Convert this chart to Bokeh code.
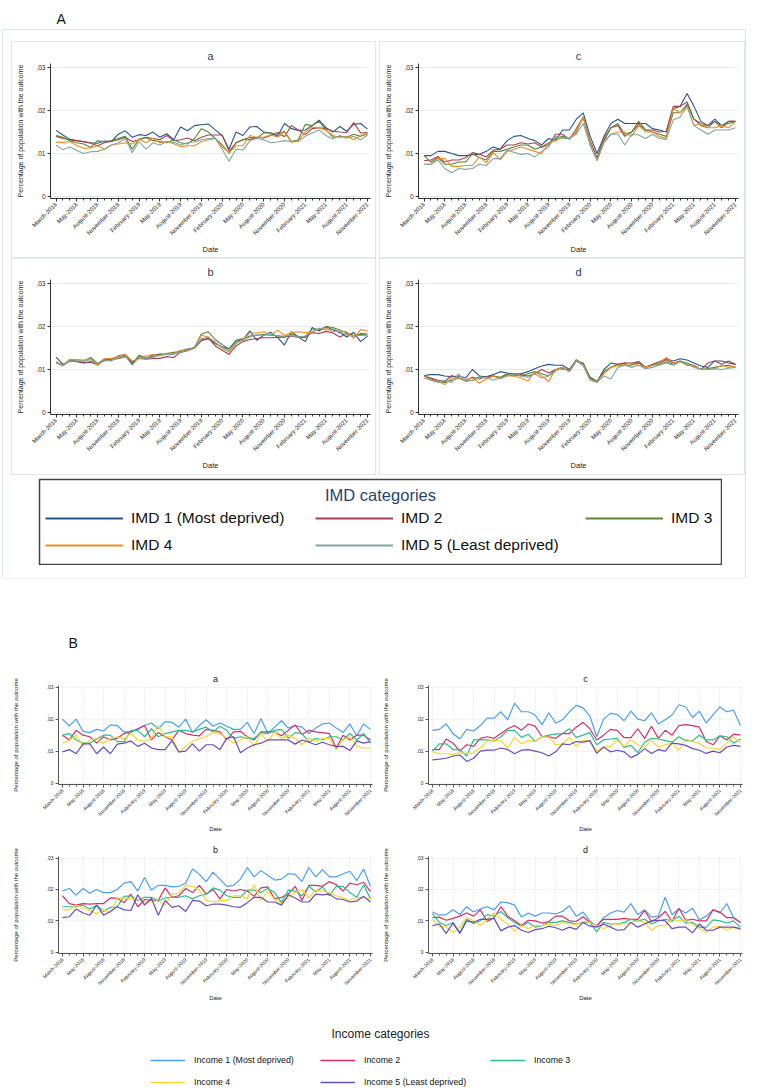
import math
from bokeh.plotting import figure
from bokeh.models import Range1d, FixedTicker, Legend, LegendItem, Label, Spacer, ColumnDataSource
from bokeh.layouts import column, row
from bokeh.embed import file_html
from bokeh.resources import INLINE

FONT = "Liberation Sans"

# ---------------- axis labels ----------------
TICK_POS = [0, 3, 6, 9, 12, 15, 18, 21, 24, 27, 30, 33, 36, 39, 42, 45]
TICK_LABELS = ["March-2018", "May-2018", "August-2018", "November-2018",
               "February-2019", "May-2019", "August-2019", "November-2019",
               "February-2020", "May-2020", "August-2020", "November-2020",
               "February-2021", "May-2021", "August-2021", "November-2021"]
Y_TICKS = [0, 0.01, 0.02, 0.03]
Y_TICK_LABELS = ["0", ".01", ".02", ".03"]

IMD_LABELS = ["IMD 1 (Most deprived)", "IMD 2", "IMD 3", "IMD 4", "IMD 5 (Least deprived)"]
IMD_COLORS = ["#26558a", "#a8404e", "#5a8636", "#ef8d24", "#80a79c"]
INC_LABELS = ["Income 1 (Most deprived)", "Income 2", "Income 3", "Income 4", "Income 5 (Least deprived)"]
INC_COLORS = ["#4a9ff0", "#d6306a", "#2dbd8b", "#f8d531", "#6a4cc0"]

# ---------------- data (values x 1/1000) ----------------
# Panel A-a
imd_a_1 = [15.4,14.3,13.3,13.0,12.8,12.5,12.4,12.9,12.8,14.5, 15.3,13.8,14.4,14.2,15.0,13.8,14.6,13.2,16.2,15.3, 16.5,16.7,16.9,15.5,14.2,11.0,15.0,14.2,16.2,16.3, 15.0,14.8,14.0,17.0,15.8,15.4,15.5,16.5,17.8,16.0, 15.0,16.3,15.2,16.8,17.0,15.7]
imd_a_2 = [14.0,13.5,13.2,13.0,12.7,12.4,11.8,12.5,12.8,13.2, 13.8,12.8,13.2,13.8,13.5,13.2,14.2,13.0,13.2,13.6, 13.0,13.8,14.3,14.3,14.3,10.5,12.5,13.2,13.3,13.8, 13.6,14.2,14.9,13.9,16.5,15.5,14.4,15.8,16.0,15.8, 15.2,15.0,14.9,17.2,14.8,14.9]
imd_a_3 = [14.2,13.8,13.0,12.5,12.2,11.4,13.0,12.7,13.0,13.5, 14.0,11.0,13.4,13.7,13.0,12.8,12.5,13.2,12.5,12.2, 13.5,15.8,15.0,13.5,12.0,10.0,12.5,13.2,13.8,13.5, 14.8,14.8,14.5,15.2,12.8,13.2,16.8,16.5,17.5,15.5, 13.8,14.0,13.8,14.5,14.0,14.6]
imd_a_4 = [12.6,12.6,12.8,11.8,11.2,11.3,11.8,11.0,12.0,12.2, 12.5,12.2,13.3,12.5,13.5,12.5,12.8,12.3,11.6,11.8, 11.8,12.8,13.2,13.5,11.5,10.2,11.8,11.8,14.2,13.8, 13.8,14.4,13.8,15.0,12.6,13.0,15.0,16.2,16.0,15.4, 14.2,13.8,14.0,13.2,14.2,14.8]
imd_a_5 = [12.0,10.9,11.5,10.7,10.0,10.4,10.5,11.0,12.0,12.5, 13.5,10.2,12.8,11.0,12.5,12.0,12.8,12.6,12.0,12.5, 12.7,13.2,13.5,13.5,11.0,8.2,11.0,10.8,13.0,13.5, 13.2,12.5,12.7,13.0,12.8,12.8,14.0,14.8,15.5,14.2, 13.4,14.2,13.6,14.0,13.2,14.3]

# Panel A-b
imd_b_1 = [12.9,11.2,12.0,11.9,11.6,11.8,11.2,12.5,12.2,13.0, 13.4,11.2,13.3,12.5,13.4,13.6,13.5,13.6,14.3,14.8, 15.0,16.8,17.2,16.0,15.3,14.8,16.6,17.0,19.0,16.8, 18.0,18.7,17.5,15.7,18.8,17.6,16.5,19.8,19.0,20.0, 19.3,18.6,17.6,18.7,16.5,17.8]
imd_b_2 = [11.6,10.9,12.0,11.8,11.5,11.7,11.1,12.2,12.4,12.5, 13.0,11.8,12.6,12.4,12.6,12.6,13.0,12.8,14.0,14.4, 15.0,16.8,17.3,15.5,14.5,13.5,15.5,16.5,17.0,17.2, 17.4,17.4,17.5,17.6,17.8,17.5,17.5,18.6,18.4,18.9, 18.5,17.6,18.4,17.5,18.4,18.3]
imd_b_3 = [11.8,11.0,12.3,12.0,12.0,12.8,11.4,12.2,12.0,13.2, 13.5,11.5,13.2,12.8,13.0,13.5,13.7,14.0,14.2,14.6, 15.2,18.3,18.8,17.0,15.8,14.8,16.8,17.2,17.8,18.0, 18.2,18.0,17.9,17.5,18.3,17.7,17.6,19.5,19.3,20.0, 19.8,19.2,18.5,18.0,18.2,18.0]
imd_b_4 = [11.7,10.9,12.4,12.3,12.2,12.5,10.9,12.5,12.6,13.0, 13.6,12.0,12.5,13.2,13.5,13.2,13.8,13.7,14.5,14.5, 14.9,18.0,17.6,16.3,15.0,14.0,16.0,17.0,18.5,18.5, 18.8,18.0,19.2,18.0,18.6,18.8,18.6,18.7,19.5,19.7, 18.8,19.0,18.8,17.3,19.3,19.0]
imd_b_5 = [11.5,11.0,12.0,12.0,12.0,12.3,11.3,12.0,12.2,12.7, 13.2,11.0,12.8,12.6,12.9,13.3,13.5,13.6,14.0,14.6, 15.0,17.2,17.5,16.4,15.2,14.3,16.2,16.8,17.6,18.1, 18.0,18.2,17.8,17.8,18.0,17.5,17.8,18.8,19.6,19.2, 19.5,18.8,18.0,17.8,18.0,17.8]

# Panel A-c
imd_c_1 = [9.5,9.5,10.5,10.5,10.0,9.5,9.5,9.7,9.8,10.5, 11.5,11.0,13.0,14.0,14.2,13.5,13.0,12.0,13.5,13.0, 15.5,15.5,18.0,19.5,14.0,10.0,14.0,17.0,18.0,17.0, 17.0,17.0,17.0,15.8,15.5,15.0,20.5,21.0,24.0,21.0, 17.5,16.5,18.0,16.5,17.5,17.5]
imd_c_2 = [8.3,8.5,9.3,8.0,8.5,8.5,9.0,10.2,9.8,9.2, 10.8,11.0,12.0,12.0,12.5,12.2,12.5,11.5,12.0,14.5, 14.5,13.3,15.8,18.5,13.0,9.0,13.5,16.0,16.5,14.0, 15.0,16.8,15.5,15.5,15.0,15.2,21.0,21.0,22.0,18.0, 17.0,16.5,17.5,16.0,17.5,17.5]
imd_c_3 = [9.5,8.0,9.0,7.5,7.5,8.0,8.0,10.0,9.0,8.5, 10.5,10.5,11.0,11.5,12.0,12.0,11.0,11.5,12.5,13.5, 14.0,13.5,15.0,18.5,12.0,8.5,13.0,16.0,17.0,14.5, 15.0,17.5,15.5,15.0,14.5,14.0,19.5,19.5,21.5,18.0, 16.5,16.0,17.5,16.5,17.0,17.5]
imd_c_4 = [7.5,7.5,8.8,8.8,7.0,7.0,7.2,7.2,9.2,7.8, 10.2,8.5,10.5,11.0,11.5,11.0,10.5,10.0,12.5,13.0, 13.8,13.5,15.5,18.5,12.5,8.3,12.8,14.5,15.0,15.0, 14.0,16.5,15.0,15.0,14.0,13.5,20.5,19.5,21.0,16.5, 17.0,16.0,16.0,16.5,16.0,17.5]
imd_c_5 = [7.5,7.5,8.5,6.5,5.5,6.5,6.3,6.5,7.5,7.2, 8.8,8.8,10.8,10.3,9.8,10.0,9.2,10.5,11.5,14.0, 13.5,13.5,14.5,17.0,12.0,8.5,12.5,14.5,14.5,12.0, 14.5,14.3,13.5,14.5,13.5,13.3,17.8,18.5,21.0,16.5, 15.5,14.5,15.5,15.5,15.5,16.0]

# Panel A-d
imd_d_1 = [8.6,8.8,8.8,8.5,8.3,8.5,8.0,10.0,8.5,8.3, 8.8,9.5,9.2,9.0,9.0,9.5,10.2,10.8,11.2,11.0, 11.0,10.0,12.2,11.0,8.2,7.2,10.0,11.5,11.2,11.5, 11.3,11.8,10.5,11.2,11.8,12.5,12.0,12.5,12.2,11.5, 10.8,10.5,12.0,12.0,11.5,11.2]
imd_d_2 = [8.5,8.0,7.5,7.2,8.6,8.0,7.5,8.2,7.8,8.3, 8.5,8.0,8.8,8.5,8.8,8.5,9.0,10.0,9.2,10.0, 10.2,9.8,12.0,11.5,8.0,7.2,9.5,10.5,11.2,11.5, 11.5,11.8,10.5,11.0,11.5,12.3,11.5,12.0,11.0,11.0, 10.0,11.5,12.0,11.2,12.0,11.2]
imd_d_3 = [8.5,7.8,7.2,7.0,7.5,8.0,7.3,7.5,8.3,8.0, 8.5,8.2,9.0,8.8,8.5,9.0,9.5,9.0,8.5,10.0, 10.5,9.5,12.3,11.2,8.0,7.0,9.5,10.5,11.0,11.0, 11.0,11.5,10.5,11.0,11.2,11.8,11.2,12.0,11.5,10.8, 10.0,10.2,10.5,10.8,11.0,10.5]
imd_d_4 = [8.0,7.5,7.2,6.5,8.0,8.0,7.5,8.0,6.8,7.8, 8.5,7.8,8.5,8.5,8.0,7.3,9.5,8.5,7.2,10.0, 10.5,9.5,12.0,11.0,7.5,7.2,9.0,10.5,11.0,11.2, 11.5,11.0,10.5,11.0,11.5,12.8,11.5,11.8,11.0,10.8, 10.0,10.0,10.2,11.0,10.5,10.8]
imd_d_5 = [8.5,7.5,7.0,7.5,7.0,9.0,7.2,7.5,8.0,8.2, 7.5,8.0,8.5,9.0,8.5,8.2,9.0,8.0,8.5,9.5, 10.5,9.5,12.0,11.0,7.5,7.0,8.5,7.8,10.5,11.0, 10.5,11.0,10.2,10.5,11.0,11.5,11.0,11.8,11.2,10.5, 10.0,10.0,10.2,10.0,10.3,10.5]

# Panel B-a
inc_a_1 = [20.0,17.8,20.0,16.2,15.8,16.8,16.3,18.2,18.0,16.0, 16.0,16.8,18.0,18.8,17.0,19.2,19.0,17.5,20.0,15.8, 18.0,19.8,17.8,18.8,17.8,16.8,16.8,19.0,15.5,20.2, 15.5,17.5,19.5,17.2,18.0,17.5,15.5,17.2,18.5,18.8, 17.2,15.8,18.5,14.8,18.5,16.8]
inc_a_2 = [15.0,13.5,16.5,15.0,14.5,12.5,14.5,13.5,14.0,15.5, 16.0,17.0,18.0,13.5,15.8,14.5,13.5,16.5,15.5,15.0, 14.8,16.8,16.5,16.0,13.5,16.0,16.2,14.5,13.5,16.0, 16.0,16.0,14.8,16.5,18.2,15.2,16.5,16.0,15.8,15.5, 11.0,15.0,13.5,15.0,15.0,13.5]
inc_a_3 = [15.0,15.5,13.5,12.5,12.5,13.8,15.0,15.0,13.0,13.0, 16.5,16.5,14.5,17.0,14.5,15.5,16.0,16.5,16.5,16.0, 16.8,17.5,16.0,17.8,16.5,14.0,14.5,14.0,14.0,15.8, 15.5,16.5,16.8,14.0,15.8,15.5,12.8,14.0,13.5,14.5, 14.5,13.5,15.5,13.5,15.5,12.5]
inc_a_4 = [12.5,13.5,15.0,11.5,13.5,14.0,12.5,14.0,14.5,13.8, 15.5,13.5,13.0,14.0,18.0,14.5,14.5,9.5,11.5,13.0, 14.0,14.5,16.0,15.5,14.0,12.5,13.5,14.5,11.5,15.5, 13.0,16.0,14.0,15.0,14.0,12.0,14.0,13.0,14.0,14.0, 10.5,13.5,14.5,11.5,11.0,11.0]
inc_a_5 = [9.8,10.5,9.2,12.3,12.3,9.2,11.3,9.2,12.2,12.5, 13.2,11.5,12.5,11.0,10.5,10.5,13.3,9.8,10.0,12.3, 10.0,12.0,12.0,10.5,14.0,14.5,9.5,11.0,12.0,12.5, 13.5,13.5,13.5,13.5,12.2,13.5,12.8,12.0,12.8,12.0, 11.5,11.5,10.2,13.2,12.5,13.0]

# Panel B-b
inc_b_1 = [19.5,20.3,18.2,20.3,18.8,20.0,19.0,19.0,20.0,22.0, 22.5,19.5,23.8,19.8,21.3,21.3,20.8,21.0,22.0,26.5, 24.8,22.5,25.5,23.3,21.0,21.3,23.3,27.0,24.0,26.0, 24.5,23.0,23.3,25.0,24.8,22.5,27.0,24.0,26.3,24.0, 24.0,25.0,25.8,22.8,26.5,21.0]
inc_b_2 = [18.0,15.5,15.0,15.5,15.3,15.5,15.5,17.3,17.2,15.8, 18.5,14.5,16.8,16.5,16.5,20.5,17.5,18.0,20.3,19.0, 21.3,18.5,20.0,17.0,20.0,19.5,20.0,19.5,17.8,20.5, 20.8,17.0,17.5,18.5,21.0,16.5,21.3,21.3,21.0,22.5, 21.5,19.5,22.0,21.5,22.3,19.3]
inc_b_3 = [14.5,14.5,14.5,15.0,13.8,15.0,13.0,14.3,14.5,17.8, 18.0,16.5,17.5,17.5,16.3,17.3,17.5,17.5,18.0,17.0, 18.0,18.5,20.5,19.8,18.0,17.5,17.5,19.8,19.8,19.0, 20.3,19.0,15.8,19.8,19.5,18.0,21.0,19.3,20.8,18.0, 21.0,21.0,19.0,17.5,21.5,17.0]
inc_b_4 = [13.5,13.5,15.0,14.0,13.3,12.3,13.5,12.5,17.3,17.3, 17.0,17.0,15.5,16.3,16.3,15.0,18.5,18.8,21.3,21.0, 19.8,16.5,16.0,16.5,16.5,18.0,18.0,17.0,21.5,16.5, 19.5,16.8,15.5,17.5,19.0,20.0,17.3,19.8,19.5,19.0, 18.0,17.3,16.5,17.3,17.5,17.0]
inc_b_5 = [11.0,11.3,13.8,12.5,11.8,15.0,11.8,13.0,14.5,13.5, 13.3,18.3,15.0,17.2,11.8,16.5,14.3,14.8,13.0,16.5, 16.3,14.8,15.3,15.3,15.0,14.5,14.3,15.8,17.5,17.5, 16.0,16.0,15.0,18.3,17.3,16.0,16.0,18.5,18.3,18.5, 17.0,16.8,16.0,16.3,17.8,16.0]

# Panel B-c
inc_c_1 = [16.5,16.8,18.5,15.5,13.8,16.8,16.3,18.0,20.3,20.3, 22.3,19.8,25.0,22.3,22.3,21.3,18.3,22.0,18.8,19.8, 22.3,24.3,23.5,21.0,14.5,20.0,21.8,21.5,19.5,22.5, 20.0,19.5,22.0,18.5,19.8,21.3,24.5,23.8,20.5,22.5, 18.8,21.3,23.8,22.3,22.8,18.0]
inc_c_2 = [10.5,10.5,13.8,12.5,10.0,12.0,11.5,14.0,14.5,14.0, 15.5,17.0,18.0,16.5,18.5,17.8,14.5,14.5,14.0,15.5, 15.5,17.5,19.0,17.0,13.5,15.0,16.8,16.5,14.2,14.2, 17.0,14.0,17.8,14.0,16.5,15.0,18.0,18.3,18.0,17.5, 13.0,12.0,14.8,13.5,15.3,15.0]
inc_c_3 = [10.0,12.3,12.3,10.5,10.5,8.5,13.5,13.5,13.5,13.2, 14.5,16.5,16.5,14.3,15.3,13.0,14.5,15.0,15.3,15.5, 17.0,14.3,15.0,15.8,12.0,13.5,13.8,14.0,11.2,11.8, 9.5,12.8,14.0,13.8,13.3,12.8,14.5,13.3,13.3,15.0, 13.5,13.5,14.8,14.5,12.5,13.8]
inc_c_4 = [9.8,9.2,9.2,9.0,9.5,9.3,9.5,11.0,13.2,13.2, 13.2,11.0,14.3,12.3,13.3,13.0,14.5,14.3,12.0,12.3, 14.3,11.5,13.3,13.3,10.0,11.3,11.5,13.5,11.5,13.5, 12.0,11.3,13.3,11.3,12.0,12.5,10.3,13.8,13.0,12.5, 11.0,11.0,10.5,12.5,14.5,12.5]
inc_c_5 = [7.3,7.5,7.8,8.5,8.8,6.8,7.8,10.0,10.3,10.3, 11.0,10.5,9.2,10.3,10.5,10.0,9.5,8.5,9.8,12.3, 12.0,13.0,12.8,13.3,9.3,11.3,9.8,10.3,9.8,8.0, 9.0,10.8,9.3,10.5,10.0,12.5,12.3,11.8,10.8,10.3, 9.3,10.0,9.5,11.3,11.8,11.5]

# Panel B-d
inc_d_1 = [12.8,11.8,12.0,13.5,12.0,14.5,12.8,13.8,14.5,13.5, 16.0,15.8,15.0,11.2,12.5,11.5,12.5,12.5,12.2,13.0, 14.8,11.5,12.8,10.0,8.3,11.0,12.5,13.3,12.8,15.5, 12.0,13.5,11.2,11.5,17.5,12.0,13.8,12.5,14.0,10.3, 11.5,13.5,12.5,15.5,11.0,9.5]
inc_d_2 = [11.0,11.2,10.2,10.8,11.5,12.5,11.5,13.5,9.8,11.0, 14.5,11.5,10.0,8.5,10.2,10.0,9.3,9.8,11.5,11.5, 10.0,9.8,11.3,9.5,8.5,10.5,10.5,10.5,10.8,10.5, 10.5,13.3,9.8,11.0,13.0,9.8,14.0,10.2,10.5,10.0, 10.0,13.5,12.8,11.0,11.0,9.5]
inc_d_3 = [12.3,9.5,8.5,9.5,6.3,10.5,9.2,10.0,12.0,11.5, 13.0,11.0,9.5,8.3,9.5,8.0,8.5,9.5,9.5,10.0, 9.5,9.0,9.5,9.5,6.5,9.5,9.0,9.0,9.5,10.5, 10.0,10.5,9.0,10.0,10.5,10.0,11.5,9.3,9.5,8.0, 8.0,10.3,10.0,9.3,10.0,8.0]
inc_d_4 = [10.5,8.3,8.0,6.3,8.0,11.0,10.0,8.5,10.5,12.5, 10.5,9.0,6.7,8.5,7.5,8.5,8.5,9.0,8.5,9.5, 9.0,8.8,9.8,9.5,8.5,7.5,8.5,9.0,9.0,9.5, 10.0,9.5,7.0,8.5,8.5,10.5,10.0,10.0,9.0,7.5, 6.3,8.0,8.3,7.0,8.0,7.0]
inc_d_5 = [8.5,9.0,6.0,9.3,6.0,10.0,9.5,10.5,10.5,10.8, 6.8,8.0,8.5,7.0,6.3,7.2,7.5,8.3,7.8,7.0, 8.0,7.3,9.5,8.3,8.0,9.0,8.0,7.0,7.2,9.5, 8.0,9.0,10.0,10.2,10.0,7.5,8.0,8.0,6.2,9.0, 7.0,7.0,8.0,8.0,8.0,7.5]

SCALE = 1000.0


def style_axis(ax, color, tick_font, tick_out, minor_out):
    ax.axis_line_color = color
    ax.major_tick_line_color = color
    ax.minor_tick_line_color = color
    ax.major_tick_in = 0
    ax.major_tick_out = tick_out
    ax.minor_tick_in = 0
    ax.minor_tick_out = minor_out
    ax.major_label_text_font = FONT
    ax.major_label_text_font_size = tick_font
    ax.major_label_text_color = "#222222"
    ax.major_label_standoff = 2
    ax.axis_label_text_font = FONT
    ax.axis_label_text_font_style = "normal"
    ax.axis_label_text_color = "#222222"


def make_panel(title, series, colors, width, height, top, bottom, left, right, cfg, styles=None):
    kw = {}
    if styles:
        kw["styles"] = styles
    p = figure(width=width, height=height, output_backend="svg", toolbar_location=None,
               x_range=Range1d(*cfg["xr"]), y_range=Range1d(*cfg["yr"]),
               min_border_top=top, min_border_bottom=bottom,
               min_border_left=left, min_border_right=right,
               title=title, outline_line_color=None,
               background_fill_color="white", border_fill_color="white", **kw)
    p.title.align = "center"
    p.title.text_font = FONT
    p.title.text_font_style = "normal"
    p.title.text_font_size = cfg["title_size"]
    p.title.text_color = cfg["title_color"]
    p.title.standoff = cfg["title_standoff"]

    xa = p.xaxis[0]
    ya = p.yaxis[0]
    xa.ticker = FixedTicker(ticks=TICK_POS, minor_ticks=list(range(len(series[0]))))
    xa.major_label_overrides = {pos: lab for pos, lab in zip(TICK_POS, TICK_LABELS)}
    xa.major_label_orientation = math.pi / 4
    ya.ticker = FixedTicker(ticks=Y_TICKS, minor_ticks=[])
    ya.major_label_overrides = {t: lab for t, lab in zip(Y_TICKS, Y_TICK_LABELS)}
    style_axis(xa, cfg["axis_color"], cfg["xtick_font"], cfg["tick_out"], cfg["minor_out"])
    style_axis(ya, cfg["axis_color"], cfg["ytick_font"], cfg["tick_out"], 0)
    xa.axis_label = "Date"
    xa.axis_label_text_font_size = cfg["xlabel_size"]
    xa.axis_label_standoff = cfg["xlabel_standoff"]
    ya.axis_label = "Percentage of population with the outcome"
    ya.axis_label_text_font_size = cfg["ylabel_size"]
    ya.axis_label_standoff = cfg["ylabel_standoff"]

    p.ygrid.grid_line_color = cfg["grid_color"]
    p.ygrid.grid_line_dash = cfg["grid_dash"]
    if cfg["xgrid"]:
        p.xgrid.grid_line_color = cfg["grid_color"]
        p.xgrid.grid_line_dash = cfg["grid_dash"]
    else:
        p.xgrid.visible = False

    for vals, col in zip(series, colors):
        src = ColumnDataSource(dict(x=list(range(len(vals))), y=[v / SCALE for v in vals]))
        p.line("x", "y", source=src, line_color=col, line_width=cfg["line_width"])
    return p


CFG_A = dict(xr=(-0.8, 45.43), yr=(-0.0005, 0.031), title_size="11px", title_color="#1f3d5c",
             title_standoff=3, axis_color="#333333", xtick_font="6px", ytick_font="6.5px",
             tick_out=3, minor_out=2, xlabel_size="7.5px", xlabel_standoff=4,
             ylabel_size="7px", ylabel_standoff=9, grid_color="#e2ecef", grid_dash="solid",
             xgrid=False, line_width=1.1)
CFG_B = dict(xr=(-0.58, 45.3), yr=(-0.0004, 0.0305), title_size="9px", title_color="#222222",
             title_standoff=3, axis_color="#555555", xtick_font="5px", ytick_font="5px",
             tick_out=3, minor_out=2, xlabel_size="6px", xlabel_standoff=4,
             ylabel_size="6px", ylabel_standoff=25, grid_color="#dcdcdc", grid_dash="1 2",
             xgrid=True, line_width=1.2)

PANEL_STYLE = {"box-shadow": "0 0 0 1px #dbe8eb"}


def blank(width, height):
    p = figure(width=width, height=height, output_backend="svg", toolbar_location=None,
               x_range=Range1d(0, 1), y_range=Range1d(0, 1),
               x_axis_location=None, y_axis_location=None, min_border=0,
               outline_line_color=None, background_fill_color="white", border_fill_color="white")
    p.grid.visible = False
    return p


def make_legend(width, height, labels, colors, title, tx, ty, tsize, tcolor, loc,
                glyph_w, glyph_h, standoff, label_w, spacing, fsize, lw, outline):
    p = figure(width=width, height=height, output_backend="svg", toolbar_location=None,
               x_range=Range1d(0, 1), y_range=Range1d(0, 1),
               x_axis_location=None, y_axis_location=None, min_border=1,
               outline_line_color=outline, outline_line_width=1.5,
               background_fill_color="white", border_fill_color="white")
    p.grid.visible = False
    items = []
    for lab, col in zip(labels, colors):
        # placeholder source with a single missing value: nothing is drawn in the frame,
        # the renderer only supplies the legend swatch
        src = ColumnDataSource(dict(x=[float("nan")], y=[float("nan")]))
        r = p.line("x", "y", source=src, line_color=col, line_width=lw)
        items.append(LegendItem(label=lab, renderers=[r]))
    leg = Legend(items=items, location=loc, orientation="horizontal", ncols=3,
                 glyph_width=glyph_w, glyph_height=glyph_h, label_height=glyph_h,
                 label_width=label_w, label_standoff=standoff, spacing=spacing,
                 padding=0, margin=0, border_line_color=None, background_fill_alpha=0,
                 label_text_font=FONT, label_text_font_size=fsize, label_text_color="#111111")
    p.add_layout(leg)
    p.add_layout(Label(x=tx, y=ty, x_units="screen", y_units="screen", text=title,
                       text_font=FONT, text_font_size=tsize, text_color=tcolor,
                       text_align="center", text_baseline="middle"))
    return p


# ---------------- Section A ----------------
headA = blank(757, 30)
headA.add_layout(Label(x=55, y=12, x_units="screen", y_units="screen", text="A",
                       text_font=FONT, text_font_size="14px", text_color="#111111",
                       text_baseline="middle"))

pa = make_panel("a", [imd_a_1, imd_a_2, imd_a_3, imd_a_4, imd_a_5], IMD_COLORS,
                363, 216, 21, 60, 38, 5, CFG_A, PANEL_STYLE)
pc = make_panel("c", [imd_c_1, imd_c_2, imd_c_3, imd_c_4, imd_c_5], IMD_COLORS,
                364, 216, 21, 60, 38, 6, CFG_A, PANEL_STYLE)
pb = make_panel("b", [imd_b_1, imd_b_2, imd_b_3, imd_b_4, imd_b_5], IMD_COLORS,
                363, 216, 21, 60, 38, 5, CFG_A, PANEL_STYLE)
pd = make_panel("d", [imd_d_1, imd_d_2, imd_d_3, imd_d_4, imd_d_5], IMD_COLORS,
                364, 216, 21, 60, 38, 6, CFG_A, PANEL_STYLE)

legA = make_legend(684, 87, IMD_LABELS, IMD_COLORS, "IMD categories", 341, 70, "16.5px", "#27466b",
                   (6, 9), 78, 20, 8, 177, 7, "15.5px", 2, "#444444")

boxA = column(
    Spacer(width=742, height=12),
    row(Spacer(width=9, height=216), pa, Spacer(width=5, height=216), pc, Spacer(width=1, height=216)),
    row(Spacer(width=9, height=216), pb, Spacer(width=5, height=216), pd, Spacer(width=1, height=216)),
    Spacer(width=742, height=4),
    row(Spacer(width=35, height=87), legA, Spacer(width=23, height=87)),
    Spacer(width=742, height=13),
    styles={"box-shadow": "0 0 0 1px #d8e6ea"},
)
rowA = row(Spacer(width=3, height=548), boxA)

# ---------------- Section B ----------------
headB = blank(757, 84)
headB.add_layout(Label(x=67, y=20, x_units="screen", y_units="screen", text="B",
                       text_font=FONT, text_font_size="14px", text_color="#111111",
                       text_baseline="middle"))

qa = make_panel("a", [inc_a_1, inc_a_2, inc_a_3, inc_a_4, inc_a_5], INC_COLORS,
                378, 173, 23, 46, 58, 6, CFG_B)
qc = make_panel("c", [inc_c_1, inc_c_2, inc_c_3, inc_c_4, inc_c_5], INC_COLORS,
                379, 173, 23, 46, 50, 15, CFG_B)
qb = make_panel("b", [inc_b_1, inc_b_2, inc_b_3, inc_b_4, inc_b_5], INC_COLORS,
                378, 169, 21, 44, 58, 6, CFG_B)
qd = make_panel("d", [inc_d_1, inc_d_2, inc_d_3, inc_d_4, inc_d_5], INC_COLORS,
                379, 169, 21, 44, 50, 15, CFG_B)

legB = make_legend(757, 86, INC_LABELS, INC_COLORS, "Income categories", 379, 56, "12px", "#222222",
                   (149, 0), 35, 14, 9, 118, 8, "8.8px", 1.6, None)

root = column(headA, rowA, headB, row(qa, qc), row(qb, qd), legB)

with open("out.html", "w") as f:
    f.write(file_html(root, INLINE))
